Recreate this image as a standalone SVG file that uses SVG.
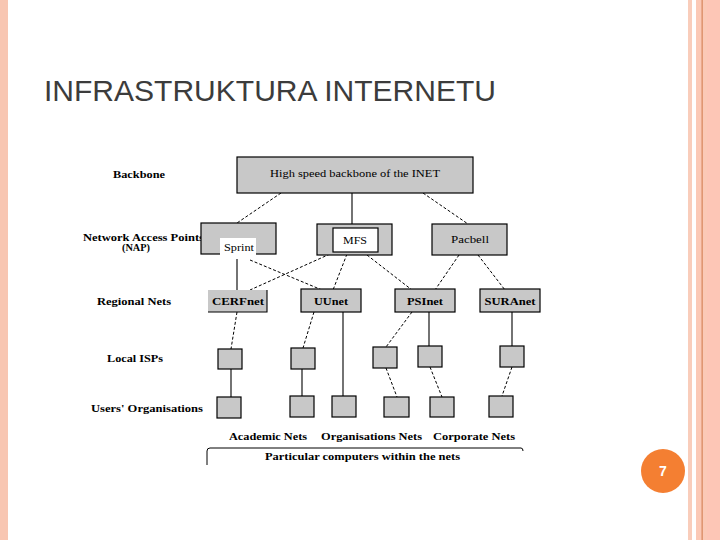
<svg xmlns="http://www.w3.org/2000/svg" width="720" height="540" viewBox="0 0 720 540">
<style>
.box{fill:#c8c8c8;stroke:#000;stroke-width:1.2}
.wbox{fill:#fff;stroke:none}
.lbl{font-family:"Liberation Serif","DejaVu Serif",serif;font-weight:bold;font-size:11px;fill:#000}
.rt{font-family:"Liberation Serif","DejaVu Serif",serif;font-size:11px;fill:#000}
.solid{stroke:#000;stroke-width:1.1;fill:none}
.dash{stroke:#000;stroke-width:1;stroke-dasharray:3 2;fill:none}
</style>
<rect x="0" y="0" width="720" height="540" fill="#fff"/>
<g id="frame">
<rect x="0" y="0" width="8" height="540" fill="#f8c6b2"/>
<rect x="688" y="0" width="4" height="540" fill="#f9cdbb"/>
<rect x="696" y="0" width="24" height="540" fill="#fbc9b6"/>
<rect x="707" y="0" width="13" height="540" fill="#fdc6b6"/>
<rect x="701.5" y="0" width="1.3" height="540" fill="#d98a62"/>
</g>
<text id="title" x="44" y="101" font-family="'Liberation Sans',Arial,sans-serif" font-size="30" fill="#3c3c3c" textLength="452" lengthAdjust="spacingAndGlyphs">INFRASTRUKTURA INTERNETU</text>
<g id="page">
<circle cx="663" cy="471" r="22" fill="#f47f32"/>
<text x="663" y="476" text-anchor="middle" font-family="'Liberation Sans',Arial,sans-serif" font-weight="bold" font-size="14" fill="#fff">7</text>
</g>
<g id="row-labels">
<text class="lbl" x="113" y="178" textLength="52" lengthAdjust="spacingAndGlyphs">Backbone</text>
<text class="lbl" x="83" y="240.5" style="font-size:10px" textLength="121" lengthAdjust="spacingAndGlyphs">Network Access Points</text>
<text class="lbl" x="122" y="251" style="font-size:10px" textLength="28" lengthAdjust="spacingAndGlyphs">(NAP)</text>
<text class="lbl" x="97" y="305" textLength="74" lengthAdjust="spacingAndGlyphs">Regional Nets</text>
<text class="lbl" x="107" y="362" textLength="56" lengthAdjust="spacingAndGlyphs">Local ISPs</text>
<text class="lbl" x="91" y="412" textLength="112" lengthAdjust="spacingAndGlyphs">Users' Organisations</text>
</g>
<g id="connectors">
<line class="dash" x1="281" y1="193" x2="237" y2="223"/>
<line class="solid" x1="352" y1="193" x2="352" y2="224"/>
<line class="dash" x1="423" y1="193" x2="468" y2="224"/>
<line class="solid" x1="237" y1="259" x2="237" y2="290"/>
<line class="dash" x1="250" y1="260" x2="322" y2="290"/>
<line class="dash" x1="330" y1="254" x2="250" y2="290"/>
<line class="dash" x1="347" y1="254" x2="333" y2="290"/>
<line class="dash" x1="367" y1="255" x2="412" y2="290"/>
<line class="dash" x1="459" y1="255" x2="435" y2="290"/>
<line class="dash" x1="478" y1="255" x2="505" y2="290"/>
<line class="dash" x1="237" y1="312" x2="231" y2="349"/>
<line class="dash" x1="314" y1="312" x2="303" y2="348"/>
<line class="solid" x1="343" y1="312" x2="343" y2="396"/>
<line class="dash" x1="412" y1="312" x2="386" y2="347"/>
<line class="solid" x1="429" y1="312" x2="429" y2="346"/>
<line class="solid" x1="512" y1="312" x2="512" y2="346"/>
<line class="solid" x1="231" y1="369" x2="231" y2="397"/>
<line class="solid" x1="302" y1="369" x2="302" y2="396"/>
<line class="dash" x1="386" y1="368" x2="397" y2="397"/>
<line class="dash" x1="430" y1="367" x2="442" y2="397"/>
<line class="dash" x1="512" y1="367" x2="502" y2="396"/>
</g>
<g id="backbone">
<rect class="box" x="237" y="157" width="236" height="36"/>
<text class="rt" x="355" y="177" text-anchor="middle" textLength="170" lengthAdjust="spacingAndGlyphs">High speed backbone of the INET</text>
</g>
<g id="nap-sprint">
<rect class="box" x="201" y="223" width="75" height="31"/>
<rect class="wbox" x="220" y="238" width="36" height="21"/>
<text class="rt" x="239" y="251" text-anchor="middle" textLength="30" lengthAdjust="spacingAndGlyphs">Sprint</text>
</g>
<g id="nap-mfs">
<rect class="box" x="317" y="224" width="75" height="31"/>
<rect x="333" y="228" width="45" height="24" fill="#fff" stroke="#000" stroke-width="1.2"/>
<text class="rt" x="355" y="244" text-anchor="middle" textLength="24" lengthAdjust="spacingAndGlyphs">MFS</text>
</g>
<g id="nap-pacbell">
<rect class="box" x="432" y="224" width="75" height="31"/>
<text class="rt" x="470" y="243" text-anchor="middle" textLength="38" lengthAdjust="spacingAndGlyphs">Pacbell</text>
</g>
<g id="cerfnet">
<rect class="box" x="208" y="290" width="59" height="22" style="stroke:none"/>
<path d="M267 290 V312 H208" class="solid"/>
<text class="lbl" x="238" y="305" text-anchor="middle" textLength="52" lengthAdjust="spacingAndGlyphs">CERFnet</text>
</g>
<g id="uunet">
<rect class="box" x="301" y="289" width="60" height="23"/>
<text class="lbl" x="331" y="305" text-anchor="middle" textLength="34" lengthAdjust="spacingAndGlyphs">UUnet</text>
</g>
<g id="psinet">
<rect class="box" x="395" y="289" width="60" height="23"/>
<text class="lbl" x="425" y="305" text-anchor="middle" textLength="36" lengthAdjust="spacingAndGlyphs">PSInet</text>
</g>
<g id="suranet">
<rect class="box" x="480" y="289" width="60" height="23"/>
<text class="lbl" x="510" y="305" text-anchor="middle" textLength="51" lengthAdjust="spacingAndGlyphs">SURAnet</text>
</g>
<g id="isp1"><rect class="box" x="218" y="349" width="24" height="20"/></g>
<g id="isp2"><rect class="box" x="291" y="348" width="24" height="21"/></g>
<g id="isp3"><rect class="box" x="373" y="347" width="24" height="21"/></g>
<g id="isp4"><rect class="box" x="418" y="346" width="24" height="21"/></g>
<g id="isp5"><rect class="box" x="500" y="346" width="24" height="21"/></g>
<g id="org1"><rect class="box" x="217" y="397" width="24" height="21"/></g>
<g id="org2"><rect class="box" x="290" y="396" width="24" height="21"/></g>
<g id="org3"><rect class="box" x="332" y="396" width="24" height="21"/></g>
<g id="org4"><rect class="box" x="384" y="397" width="25" height="20"/></g>
<g id="org5"><rect class="box" x="430" y="397" width="24" height="20"/></g>
<g id="org6"><rect class="box" x="489" y="396" width="24" height="21"/></g>
<g id="bottom">
<text class="lbl" x="229" y="440" textLength="78" lengthAdjust="spacingAndGlyphs">Academic Nets</text>
<text class="lbl" x="321" y="440" textLength="101" lengthAdjust="spacingAndGlyphs">Organisations Nets</text>
<text class="lbl" x="433" y="440" textLength="82" lengthAdjust="spacingAndGlyphs">Corporate Nets</text>
<path d="M207 465 V451 Q207 448 210 448 H521 Q523 448 523 451" class="solid" style="stroke-width:1"/>
<text class="lbl" x="265" y="460" textLength="195" lengthAdjust="spacingAndGlyphs">Particular computers within the nets</text>
</g>
</svg>
